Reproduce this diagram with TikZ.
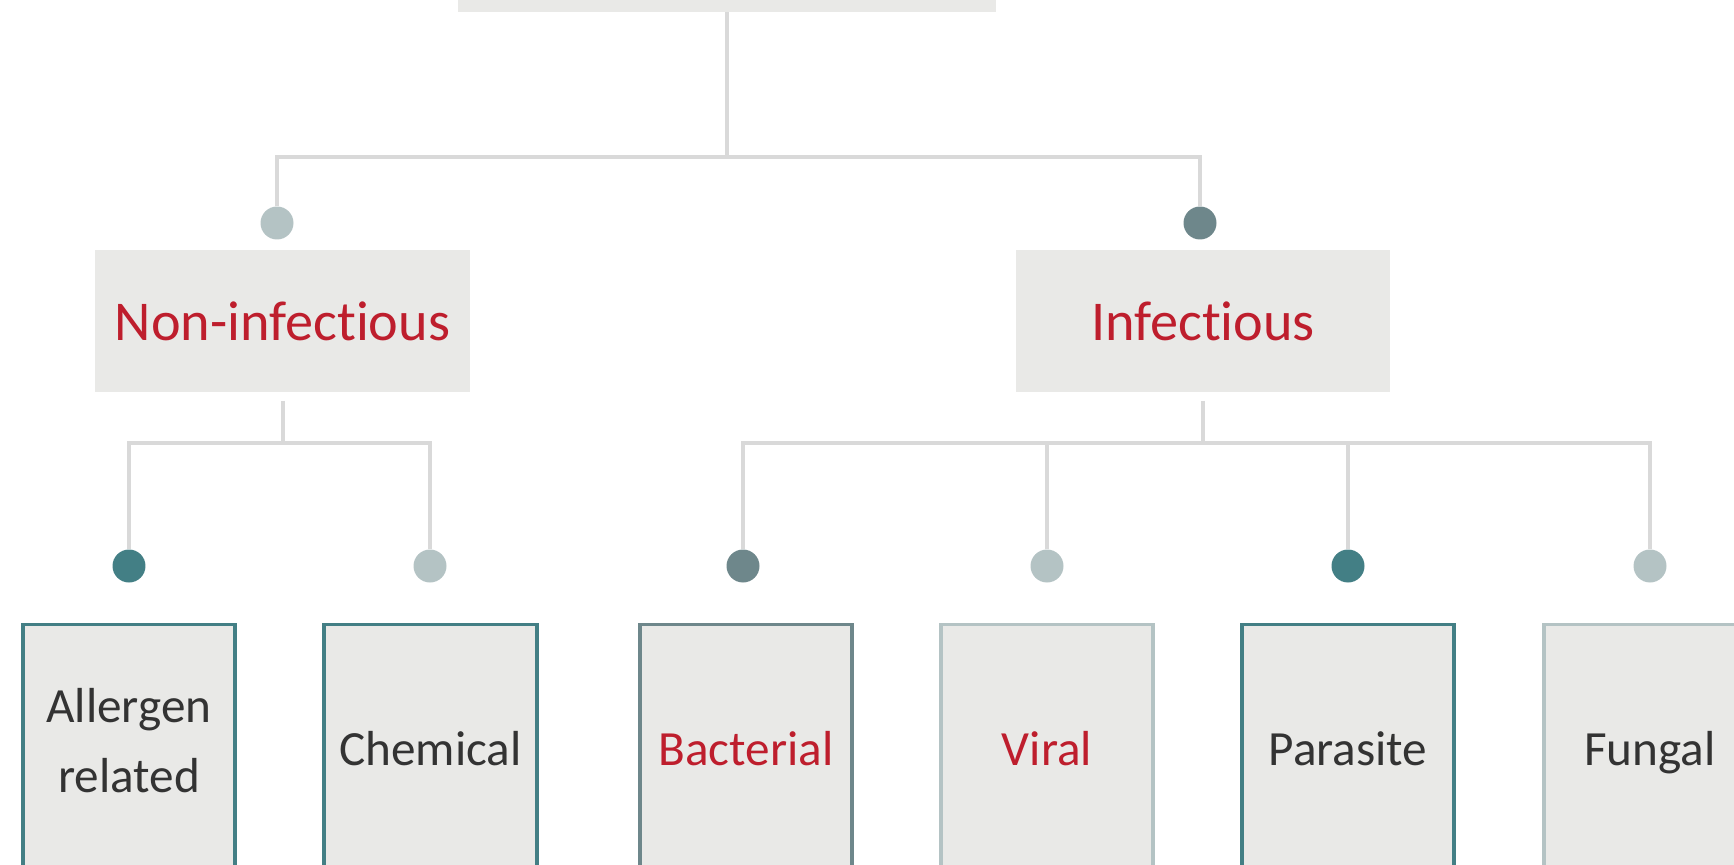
\documentclass[tikz,border=0pt]{standalone}
\usepackage{fontspec}
\setmainfont{Carlito}[Ligatures=NoCommon]
\usetikzlibrary{positioning}

\definecolor{linegrey}{HTML}{D9D9D9}
\definecolor{boxfill}{HTML}{E9E9E7}
\definecolor{tealdark}{HTML}{437F85}
\definecolor{slate}{HTML}{6E878B}
\definecolor{pale}{HTML}{B4C3C4}
\definecolor{catred}{HTML}{BE1E2D}
\definecolor{ink}{HTML}{333333}

\begin{document}
\begin{tikzpicture}[x=0.02cm, y=-0.02cm,
    link/.style={draw=linegrey, line width=0.08cm},
    dot/.style={circle, inner sep=0pt, minimum size=0.66cm, fill=#1},
    midbox/.style={fill=boxfill, minimum width=7.5cm, minimum height=2.84cm,
        outer ysep=0.18cm, text=catred, font=\fontsize{32}{38}\selectfont},
    leafbox/.style={fill=boxfill, draw=#1, line width=0.075cm, minimum width=4.25cm,
        minimum height=5.06cm, align=center, text=ink, font=\fontsize{28}{40}\selectfont,
        execute at begin node=\strut, execute at end node=\strut}]
    \useasboundingbox (0,0) rectangle (1734,865);
    \clip (0,0) rectangle (1734,865);

    % top box, cut off by the frame
    \node[fill=boxfill, minimum width=10.76cm, minimum height=2cm] (root) at (727,-38) {};

    % second level
    \node[dot=pale] (dNon) at (277,223) {};
    \node[dot=slate] (dInf) at (1200,223) {};
    \node[midbox] (non) at (282.5,321) {Non-infectious};
    \node[midbox] (inf) at (1203,321) {Infectious};

    % leaves
    \node[dot=tealdark] (dAll) at (129,566) {};
    \node[dot=pale] (dChem) at (430,566) {};
    \node[dot=slate] (dBac) at (743,566) {};
    \node[dot=pale] (dVir) at (1047,566) {};
    \node[dot=tealdark] (dPar) at (1348,566) {};
    \node[dot=pale] (dFun) at (1650,566) {};

    \node[leafbox=tealdark] (all) at (129,751) {Allergen\\related};
    \node[leafbox=tealdark] (chem) at (430.5,751) {Chemical};
    \node[leafbox=slate, text=catred] (bac) at (746,751) {Bacterial};
    \node[leafbox=pale, text=catred] (vir) at (1047,751) {Viral};
    \node[leafbox=tealdark] (par) at (1348,751) {Parasite};
    \node[leafbox=pale] (fun) at (1650,751) {Fungal};

    % connectors
    \coordinate (topsplit) at (727,157);
    \coordinate (nonsplit) at (282,443);
    \coordinate (infsplit) at (1203,443);

    \draw[link] (root.south) -- (topsplit);
    \draw[link] (dNon.north) |- (topsplit) -| (dInf.north);

    \draw[link] (non.south) -- (non.south |- nonsplit);
    \draw[link] (dAll.north) |- (nonsplit) -| (dChem.north);

    \draw[link] (inf.south) -- (inf.south |- infsplit);
    \draw[link] (dBac.north) |- (infsplit) -| (dFun.north);
    \draw[link] (dVir.north) -- (dVir.north |- infsplit);
    \draw[link] (dPar.north) -- (dPar.north |- infsplit);
\end{tikzpicture}
\end{document}
